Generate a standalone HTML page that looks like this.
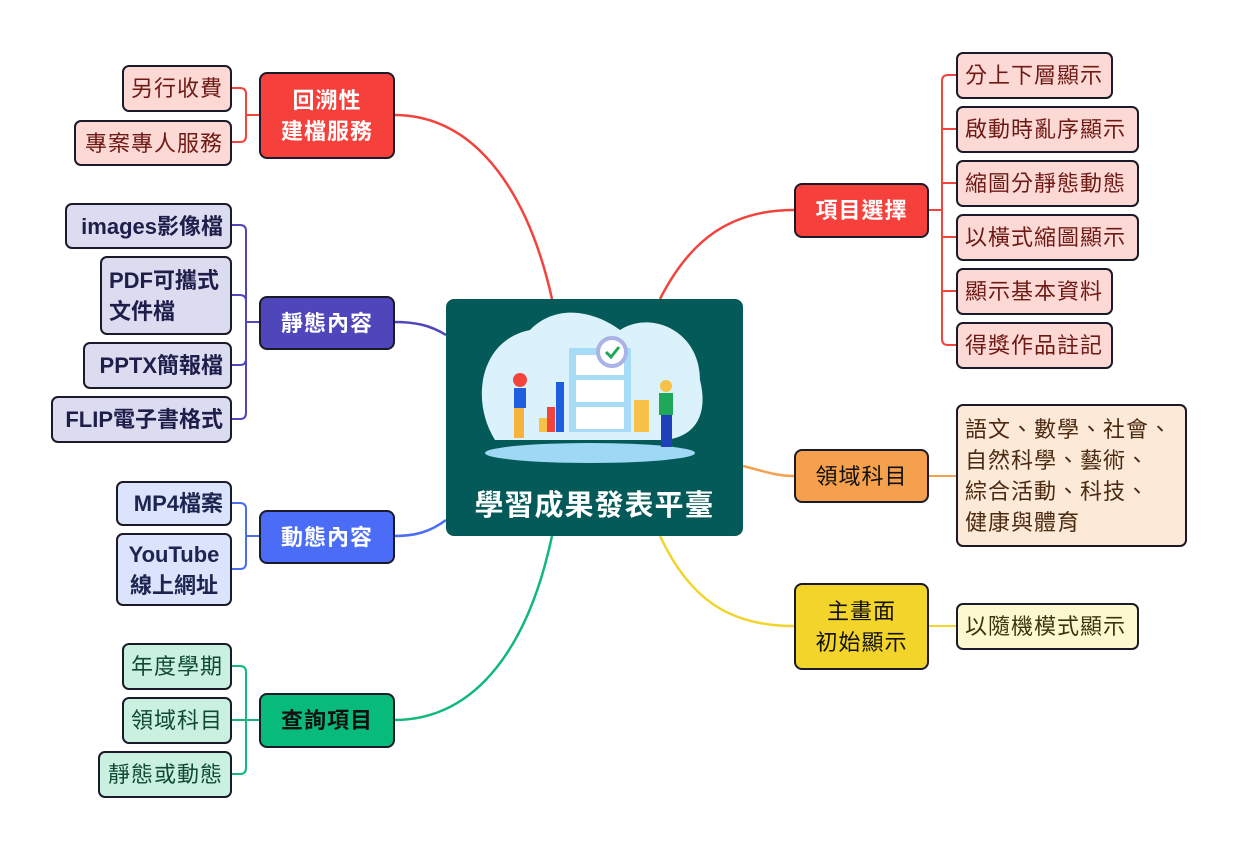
<!DOCTYPE html>
<html><head><meta charset="utf-8"><style>
body{margin:0;width:1237px;height:849px;background:#fff;position:relative;overflow:hidden;font-family:"Liberation Sans","Noto Sans CJK TC",sans-serif}
.n{position:absolute;box-sizing:border-box;border:2px solid #1a1a2a;border-radius:7px;display:flex;align-items:center;font-size:22px;letter-spacing:1px;line-height:31px;padding:0 7px}
.m{justify-content:center;text-align:center;color:#fff;font-weight:bold;border-radius:8px}
.l{justify-content:flex-end;text-align:left}
.r{justify-content:flex-start}
.red{background:#fdd9d6;color:#6e1a14}
.ind{background:#dcdcf0;color:#1f1d4a;font-weight:bold;letter-spacing:0}
.blu{background:#dce3fc;color:#1c2450;font-weight:bold;letter-spacing:0}
.grn{background:#caf0df;color:#0f4a33}
svg{position:absolute;left:0;top:0}
</style></head><body>
<svg width="1237" height="849" fill="none" stroke-width="2.5">
<path d="M552 299 C530 200 480 115 394 115" stroke="#f2433d"/>
<path d="M446 335 C430 325 415 322 394 322" stroke="#4f46bb"/>
<path d="M446 520 C430 532 415 536 394 536" stroke="#4a6cf6"/>
<path d="M552 536 C530 640 480 720 394 720" stroke="#10b97a"/>
<path d="M660 299 C690 240 730 210 794 210" stroke="#f2433d"/>
<path d="M743 466 C760 470 775 476 794 476" stroke="#f5a04d"/>
<path d="M660 536 C690 600 730 626 794 626" stroke="#f2d42a"/>
<g stroke-width="2">
<path d="M231 88 H240 Q246 88 246 94 V136 Q246 142 240 142 H231 M246 115 H259" stroke="#f2433d"/>
<path d="M231 225 H240 Q246 225 246 231 V413 Q246 419 240 419 H231 M231 295 H240 Q246 295 246 301 M231 365 H240 Q246 365 246 359 M246 322 H259" stroke="#4f46bb"/>
<path d="M231 503 H240 Q246 503 246 509 V563 Q246 569 240 569 H231 M246 536 H259" stroke="#4a6cf6"/>
<path d="M231 666 H240 Q246 666 246 672 V768 Q246 774 240 774 H231 M231 720 H259" stroke="#10b97a"/>
<path d="M956 75 H948 Q942 75 942 81 V339 Q942 345 948 345 H956 M956 129 H942 M956 183 H942 M956 237 H942 M956 291 H942 M928 210 H942" stroke="#f2433d"/>
<path d="M928 476 H956" stroke="#f5a04d"/>
<path d="M928 626 H956" stroke="#f2d42a"/>
</g>
</svg>
<div style="position:absolute;left:446px;top:299px;width:297px;height:237px;background:#045a58;border-radius:8px"></div>
<svg width="1237" height="849" style="pointer-events:none">
<path d="M495 440 C470 400 480 340 530 330 C560 300 600 315 620 330 C650 310 700 330 700 380 C710 420 690 440 660 440 Z" fill="#dbf1fb"/>
<ellipse cx="590" cy="453" rx="105" ry="10" fill="#9fd8f5"/>
<rect x="569" y="348" width="62" height="84" fill="#a6dcf6"/>
<rect x="576" y="355" width="48" height="20" fill="#fff"/><rect x="576" y="380" width="48" height="22" fill="#fff"/><rect x="576" y="407" width="48" height="22" fill="#fff"/>
<circle cx="612" cy="352" r="14" fill="#fff" stroke="#a9b3e6" stroke-width="4"/>
<path d="M606 352 L611 357 L619 347" stroke="#1fa85a" stroke-width="3" fill="none"/>
<rect x="539" y="418" width="8" height="14" fill="#f7c247"/><rect x="547" y="407" width="8" height="25" fill="#f2433d"/><rect x="556" y="382" width="8" height="50" fill="#1e5ee0"/>
<rect x="634" y="400" width="15" height="32" fill="#f7c247"/>
<circle cx="520" cy="380" r="7" fill="#f2433d"/><rect x="514" y="388" width="12" height="20" fill="#1e5ee0"/><rect x="514" y="408" width="10" height="30" fill="#f7b23b"/>
<circle cx="666" cy="386" r="6" fill="#f7c247"/><rect x="659" y="393" width="14" height="22" fill="#1fa85a"/><rect x="661" y="415" width="11" height="32" fill="#1e40b8"/>
</svg>
<div style="position:absolute;left:446px;top:482px;width:297px;text-align:center;color:#fff;font-size:29px;letter-spacing:1px;font-weight:bold">學習成果發表平臺</div>

<div class="n m" style="left:259px;top:72px;width:136px;height:87px;background:#f5403b">回溯性<br>建檔服務</div>
<div class="n m" style="left:259px;top:296px;width:136px;height:54px;background:#4f46bb">靜態內容</div>
<div class="n m" style="left:259px;top:510px;width:136px;height:54px;background:#4a6cf6">動態內容</div>
<div class="n m" style="left:259px;top:693px;width:136px;height:55px;background:#08bb7a;color:#111">查詢項目</div>
<div class="n m" style="left:794px;top:183px;width:135px;height:55px;background:#f5403b">項目選擇</div>
<div class="n m" style="left:794px;top:449px;width:135px;height:54px;background:#f5a04d;color:#111;font-weight:normal">領域科目</div>
<div class="n m" style="left:794px;top:583px;width:135px;height:87px;background:#f2d42a;color:#111;font-weight:normal">主畫面<br>初始顯示</div>

<div class="n l red" style="left:122px;top:65px;width:110px;height:47px">另行收費</div>
<div class="n l red" style="left:74px;top:120px;width:158px;height:46px">專案專人服務</div>
<div class="n l ind" style="left:65px;top:203px;width:167px;height:46px">images影像檔</div>
<div class="n l ind" style="left:100px;top:256px;width:132px;height:79px;justify-content:flex-start">PDF可攜式<br>文件檔</div>
<div class="n l ind" style="left:83px;top:342px;width:149px;height:47px">PPTX簡報檔</div>
<div class="n l ind" style="left:51px;top:396px;width:181px;height:47px">FLIP電子書格式</div>
<div class="n l blu" style="left:116px;top:481px;width:116px;height:45px">MP4檔案</div>
<div class="n l blu" style="left:116px;top:533px;width:116px;height:73px;justify-content:center;text-align:center">YouTube<br>線上網址</div>
<div class="n l grn" style="left:122px;top:643px;width:110px;height:47px">年度學期</div>
<div class="n l grn" style="left:122px;top:697px;width:110px;height:47px">領域科目</div>
<div class="n l grn" style="left:98px;top:751px;width:134px;height:47px">靜態或動態</div>

<div class="n r red" style="left:956px;top:52px;width:157px;height:47px">分上下層顯示</div>
<div class="n r red" style="left:956px;top:106px;width:183px;height:47px">啟動時亂序顯示</div>
<div class="n r red" style="left:956px;top:160px;width:183px;height:47px">縮圖分靜態動態</div>
<div class="n r red" style="left:956px;top:214px;width:183px;height:47px">以橫式縮圖顯示</div>
<div class="n r red" style="left:956px;top:268px;width:157px;height:47px">顯示基本資料</div>
<div class="n r red" style="left:956px;top:322px;width:157px;height:47px">得獎作品註記</div>
<div class="n r" style="left:956px;top:404px;width:231px;height:143px;background:#fde9d8;color:#4a2a10;line-height:31px">語文、數學、社會、<br>自然科學、藝術、<br>綜合活動、科技、<br>健康與體育</div>
<div class="n r" style="left:956px;top:603px;width:183px;height:47px;background:#fdf8d0;color:#3d3510">以隨機模式顯示</div>
</body></html>
